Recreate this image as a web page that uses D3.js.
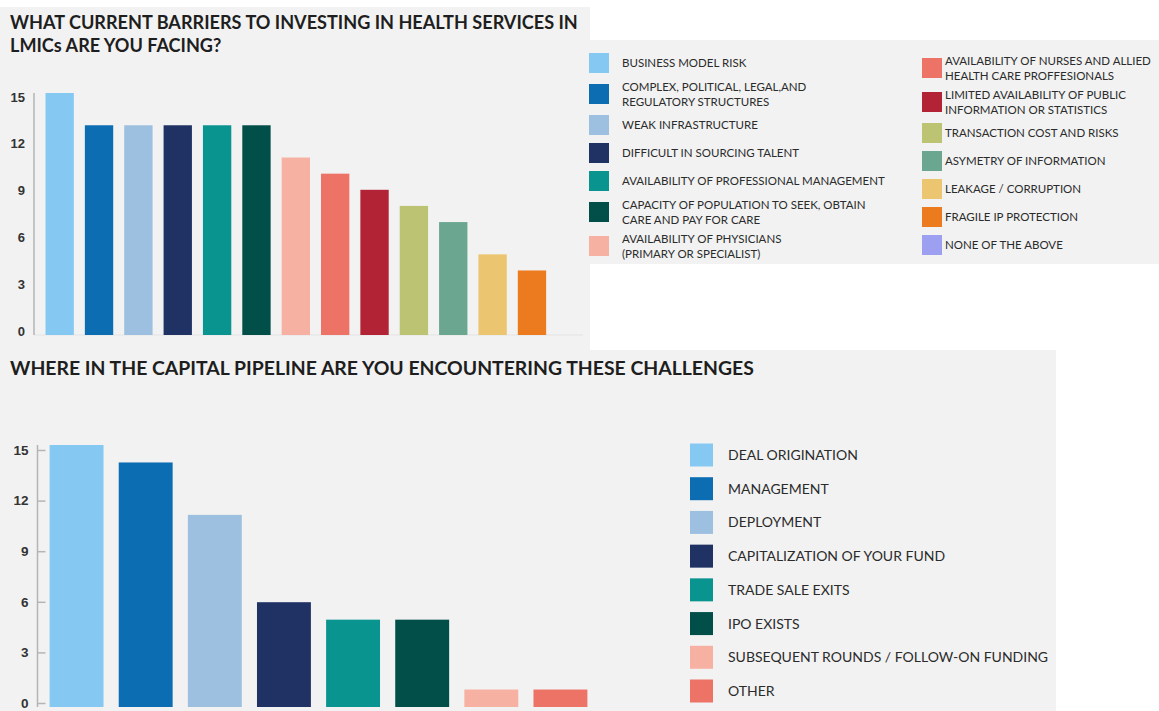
<!DOCTYPE html>
<html>
<head>
<meta charset="utf-8">
<script src="https://cdnjs.cloudflare.com/ajax/libs/d3/7.8.5/d3.min.js"></script>
<style>
  body { margin: 0; background: #fff; }
  svg { display: block; font-family: 'Lato', 'Open Sans', sans-serif; }
  .title { font-weight: 700; fill: #1e1e1e; }
  .axis text { font-weight: 700; fill: #333; }
  .legend text { fill: #2b2b2b; }
</style>
</head>
<body>
<div id="chart"></div>
<script>

// Question 1: barriers to investing
var barrierLabels = [
  ['BUSINESS MODEL RISK'],
  ['COMPLEX, POLITICAL, LEGAL,AND', 'REGULATORY STRUCTURES'],
  ['WEAK INFRASTRUCTURE'],
  ['DIFFICULT IN SOURCING TALENT'],
  ['AVAILABILITY OF PROFESSIONAL MANAGEMENT'],
  ['CAPACITY OF POPULATION TO SEEK, OBTAIN', 'CARE AND PAY FOR CARE'],
  ['AVAILABILITY OF PHYSICIANS', '(PRIMARY OR SPECIALIST)'],
  ['AVAILABILITY OF NURSES AND ALLIED', 'HEALTH CARE PROFFESIONALS'],
  ['LIMITED AVAILABILITY OF PUBLIC', 'INFORMATION OR STATISTICS'],
  ['TRANSACTION COST AND RISKS'],
  ['ASYMETRY OF INFORMATION'],
  ['LEAKAGE / CORRUPTION'],
  ['FRAGILE IP PROTECTION'],
  ['NONE OF THE ABOVE']
];
var barrierValues = [15, 13, 13, 13, 13, 13, 11, 10, 9, 8, 7, 5, 4, 0];

// Question 2: where in the pipeline
var pipelineLabels = [
  'DEAL ORIGINATION',
  'MANAGEMENT',
  'DEPLOYMENT',
  'CAPITALIZATION OF YOUR FUND',
  'TRADE SALE EXITS',
  'IPO EXISTS',
  'SUBSEQUENT ROUNDS / FOLLOW-ON FUNDING',
  'OTHER'
];
var pipelineValues = [15, 14, 11, 6, 5, 5, 1, 1];

var yTicks = [0, 3, 6, 9, 12, 15];

var palette = ['#85c8f2', '#0c6db3', '#9dbfe0', '#1f3263', '#0a9490', '#024f4a', '#f6b1a3',
               '#ed7367', '#b12335', '#bcc474', '#6aa690', '#ebc56f', '#ec7b1f', '#9d9ff0'];

var width = 1159,
    height = 711;

var svg = d3.select('#chart')
  .append('svg')
  .attr('width', width)
  .attr('height', height);

// grey panels behind each block
var panels = [
  {x: 0, y: 7, w: 590, h: 345},
  {x: 583, y: 40, w: 576, h: 224},
  {x: 0, y: 350, w: 1056, h: 361}
];
svg.selectAll('rect.panel')
  .data(panels)
  .enter()
  .append('rect')
  .attr('class', 'panel')
  .attr('x', d => d.x)
  .attr('y', d => d.y)
  .attr('width', d => d.w)
  .attr('height', d => d.h)
  .style('fill', '#f2f2f2');

var drawBars = (cfg) => {

  var x = d3.scaleBand()
    .domain(cfg.cats)
    .range(cfg.xRange)
    .paddingInner(cfg.pad)
    .paddingOuter(cfg.pad / 2);

  var y = d3.scaleLinear()
    .domain([0, 15])
    .range(cfg.yRange);

  // tick labels sit on a slightly tighter range than the bars
  var yLabels = y.copy().range(cfg.labelRange);

  // faint baseline
  if (cfg.baseline) {
    svg.append('line')
      .attr('x1', cfg.axisX).attr('x2', cfg.baseline)
      .attr('y1', y(0)).attr('y2', y(0))
      .style('stroke', '#e3e3e3');
  }

  // axis line
  svg.append('line')
    .attr('x1', cfg.axisX).attr('x2', cfg.axisX)
    .attr('y1', y(15)).attr('y2', y(0))
    .style('stroke', '#b5b5b5')
    .style('stroke-width', 1.5);

  var axis = svg.append('g')
    .attr('class', 'axis')
    .attr('transform', 'translate(' + cfg.axisX + ',0)')
    .call(d3.axisLeft(yLabels).tickValues(yTicks).tickSizeInner(cfg.tick).tickSizeOuter(0).tickPadding(9));

  axis.select('.domain').remove();
  axis.selectAll('.tick line').style('stroke', '#b5b5b5').style('stroke-width', 1.5);
  axis.selectAll('.tick text').style('font-size', cfg.tickFont + 'px');

  svg.append('g')
    .selectAll('rect')
    .data(cfg.values)
    .enter()
    .append('rect')
    .attr('x', (d, i) => x(cfg.cats[i]))
    .attr('y', d => y(d))
    .attr('width', x.bandwidth())
    .attr('height', d => y(0) - y(d))
    .style('fill', (d, i) => palette[i]);
};

// ---- top chart ----
var tTitle = svg.append('text').attr('class', 'title').style('font-size', '18.1px');
tTitle.append('tspan').attr('x', 10).attr('y', 29).text('WHAT CURRENT BARRIERS TO INVESTING IN HEALTH SERVICES IN');
tTitle.append('tspan').attr('x', 10).attr('y', 52).text('LMICs ARE YOU FACING?');

drawBars({
  cats: barrierLabels.map(d => d.join(' ')),
  values: barrierValues,
  xRange: [40, 591],
  pad: 0.28,
  yRange: [335, 93],
  labelRange: [331, 97],
  axisX: 34,
  tick: 0,
  tickFont: 13,
  baseline: 583
});

// legend, two columns of seven rows
var rowH = (n) => n === 1 ? 28 : 34;
var legendCols = [
  {sx: 589, tx: 622, top: 49},
  {sx: 922, tx: 945, top: 51}
];

var topLegend = svg.append('g').attr('class', 'legend');
barrierLabels.forEach((lines, i) => {
  var col = legendCols[Math.floor(i / 7)];
  var prev = barrierLabels.slice(Math.floor(i / 7) * 7, i);
  var yTop = col.top + d3.sum(prev, p => rowH(p.length));
  var cy = yTop + rowH(lines.length) / 2;

  topLegend.append('rect')
    .attr('x', col.sx)
    .attr('y', cy - 10)
    .attr('width', 20)
    .attr('height', 20)
    .style('fill', palette[i]);

  lines.forEach((t, j) => {
    topLegend.append('text')
      .attr('x', col.tx)
      .attr('y', cy + (j - (lines.length - 1) / 2) * 15)
      .attr('dy', '0.36em')
      .style('font-size', '11.5px')
      .text(t);
  });
});

// ---- bottom chart ----
svg.append('text')
  .attr('class', 'title')
  .attr('x', 10)
  .attr('y', 375)
  .style('font-size', '19.4px')
  .text('WHERE IN THE CAPITAL PIPELINE ARE YOU ENCOUNTERING THESE CHALLENGES');

drawBars({
  cats: pipelineLabels,
  values: pipelineValues,
  xRange: [42, 595],
  pad: 0.22,
  yRange: [707, 445],
  labelRange: [703, 450],
  axisX: 37.5,
  tick: -8,
  tickFont: 13.5
});

var bottomLegend = svg.append('g').attr('class', 'legend');
var ly = d3.scalePoint()
  .domain(pipelineLabels)
  .range([455, 691]);

pipelineLabels.forEach((t, i) => {
  bottomLegend.append('rect')
    .attr('x', 690)
    .attr('y', ly(t) - 11.5)
    .attr('width', 23)
    .attr('height', 23)
    .style('fill', palette[i]);

  bottomLegend.append('text')
    .attr('x', 728)
    .attr('y', ly(t))
    .attr('dy', '0.36em')
    .style('font-size', '14px')
    .text(t);
});

</script>
</body>
</html>
